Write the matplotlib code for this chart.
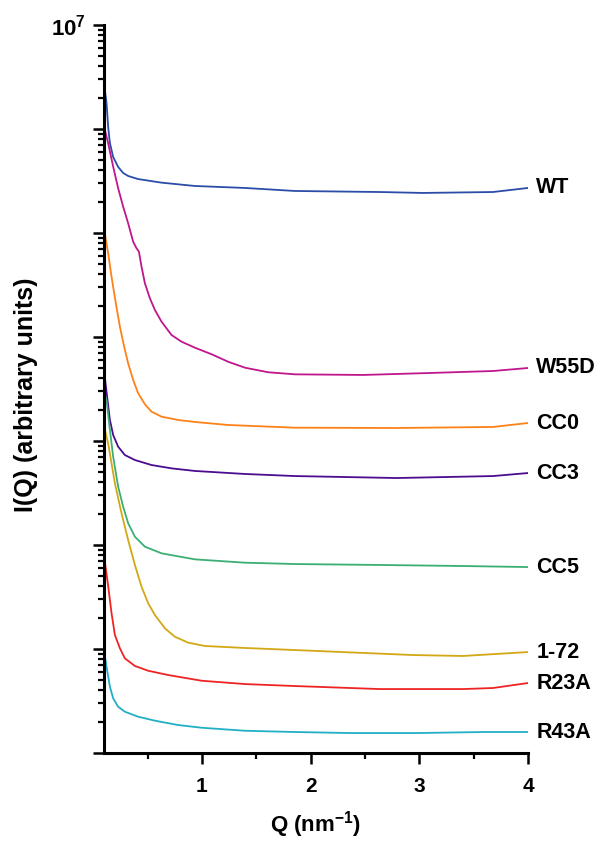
import matplotlib
matplotlib.use("Agg")
import matplotlib.pyplot as plt
from matplotlib.ticker import LogLocator, NullFormatter, FixedLocator, FuncFormatter

plt.rcParams['font.family'] = ['Liberation Sans', 'DejaVu Sans']
plt.rcParams['font.weight'] = 'bold'
plt.rcParams['mathtext.fontset'] = 'custom'
plt.rcParams['mathtext.rm'] = 'Liberation Sans:bold'
plt.rcParams['mathtext.bf'] = 'Liberation Sans:bold'
plt.rcParams['mathtext.default'] = 'bf'

# Data: Q (nm^-1) and log10 I(Q)
wt_q = [0.100, 0.123, 0.138, 0.154, 0.184, 0.230, 0.276, 0.322, 0.411, 0.629, 0.936, 1.396, 1.856, 2.638, 3.034, 3.678, 4.0]
wt_l = [6.440, 6.250, 6.019, 5.865, 5.731, 5.635, 5.577, 5.548, 5.519, 5.484, 5.452, 5.433, 5.404, 5.394, 5.385, 5.394, 5.433]

w55d_q = [0.101, 0.138, 0.184, 0.230, 0.276, 0.322, 0.368, 0.399, 0.421, 0.445, 0.476, 0.522, 0.568, 0.629, 0.721, 0.813, 0.936, 1.090, 1.242, 1.396, 1.610, 1.856, 2.482, 3.099, 3.678, 4.0]
w55d_l = [6.022, 5.863, 5.638, 5.430, 5.253, 5.093, 4.916, 4.853, 4.820, 4.676, 4.516, 4.372, 4.260, 4.147, 4.019, 3.955, 3.897, 3.834, 3.762, 3.705, 3.661, 3.641, 3.635, 3.654, 3.673, 3.702]

cc0_q = [0.100, 0.138, 0.169, 0.206, 0.246, 0.285, 0.322, 0.368, 0.414, 0.476, 0.537, 0.629, 0.782, 0.936, 1.242, 1.856, 2.794, 3.678, 4.0]
cc0_l = [5.040, 4.805, 4.580, 4.339, 4.099, 3.907, 3.747, 3.587, 3.459, 3.353, 3.282, 3.234, 3.202, 3.183, 3.154, 3.128, 3.125, 3.135, 3.173]

cc3_q = [0.100, 0.132, 0.154, 0.184, 0.230, 0.292, 0.384, 0.537, 0.721, 0.936, 1.396, 1.856, 2.794, 3.678, 4.0]
cc3_l = [3.680, 3.394, 3.202, 3.058, 2.945, 2.865, 2.817, 2.769, 2.737, 2.712, 2.683, 2.663, 2.644, 2.663, 2.692]

cc5_q = [0.100, 0.123, 0.154, 0.184, 0.230, 0.276, 0.322, 0.384, 0.476, 0.629, 0.936, 1.396, 1.856, 2.638, 3.402, 4.0]
cc5_l = [3.460, 3.394, 3.106, 2.849, 2.561, 2.368, 2.209, 2.080, 1.984, 1.920, 1.862, 1.830, 1.817, 1.808, 1.798, 1.788]

y172_q = [0.100, 0.138, 0.169, 0.200, 0.261, 0.322, 0.384, 0.445, 0.506, 0.568, 0.660, 0.752, 0.874, 1.028, 1.396, 1.856, 2.942, 3.402, 4.0]
y172_l = [3.145, 2.978, 2.785, 2.593, 2.305, 2.048, 1.808, 1.599, 1.440, 1.327, 1.199, 1.118, 1.061, 1.029, 1.010, 0.990, 0.942, 0.933, 0.971]

r23a_q = [0.100, 0.138, 0.169, 0.200, 0.246, 0.292, 0.384, 0.506, 0.690, 0.998, 1.396, 1.856, 2.638, 3.402, 3.678, 4.0]
r23a_l = [1.900, 1.606, 1.346, 1.135, 1.007, 0.910, 0.837, 0.791, 0.750, 0.695, 0.663, 0.644, 0.615, 0.615, 0.625, 0.673]

r43a_q = [0.100, 0.123, 0.154, 0.184, 0.230, 0.292, 0.414, 0.568, 0.782, 0.998, 1.396, 1.856, 2.362, 2.979, 3.586, 4.0]
r43a_l = [0.980, 0.830, 0.638, 0.526, 0.445, 0.397, 0.349, 0.311, 0.269, 0.243, 0.214, 0.202, 0.192, 0.192, 0.202, 0.202]

names = ["WT", "W55D", "CC0", "CC3", "CC5", "1-72", "R23A", "R43A"]
series = [(wt_q, wt_l), (w55d_q, w55d_l), (cc0_q, cc0_l), (cc3_q, cc3_l),
          (cc5_q, cc5_l), (y172_q, y172_l), (r23a_q, r23a_l), (r43a_q, r43a_l)]
colors = ["#2B4DA8", "#C0168C", "#FF8119", "#4B0C8F", "#3BAF72", "#D2A814", "#EE2424", "#22AFC6"]

fig = plt.figure(figsize=(6.02, 8.44), dpi=100)
ax = fig.add_axes([0.1728, 0.1078, 0.7043, 0.8626])

for (q, l), c, n in zip(series, colors, names):
    vals = [10 ** v for v in l]
    ax.plot(q, vals, color=c, lw=1.3, solid_joinstyle='round')
    ax.annotate(n, xy=(q[-1], vals[-1]), xytext=(6, 0), textcoords='offset points',
                va='center', ha='left', fontsize=15.5, fontweight='bold', color='black',
                annotation_clip=False)

ax.set_yscale('log')
ax.set_xlim(0.1, 4.0)
ax.set_ylim(1, 1e7)

ax.spines['top'].set_visible(False)
ax.spines['right'].set_visible(False)
ax.spines['left'].set_linewidth(2.2)
ax.spines['bottom'].set_linewidth(2.2)

ax.xaxis.set_major_locator(FixedLocator([1, 2, 3, 4]))
ax.xaxis.set_minor_locator(FixedLocator([0.5, 1.5, 2.5, 3.5]))
ax.yaxis.set_major_locator(LogLocator(base=10, numticks=20))
ax.yaxis.set_minor_locator(LogLocator(base=10, subs=[2, 3, 4, 5, 6, 7, 8, 9], numticks=20))
ax.yaxis.set_minor_formatter(NullFormatter())
ax.yaxis.set_major_formatter(FuncFormatter(lambda v, p: r'$\mathbf{10^{7}}$' if abs(v - 1e7) < 1 else ''))

ax.tick_params(axis='both', which='major', direction='out', length=8, width=1.8, labelsize=15)
ax.tick_params(axis='both', which='minor', direction='out', length=4.5, width=1.6)
ax.tick_params(axis='x', pad=9)
ax.tick_params(axis='y', labelsize=16, pad=5)
for t in ax.get_xticklabels():
    t.set_fontweight('bold')

ax.set_xlabel(r'Q (nm$^{\mathbf{-1}}$)', fontsize=16, fontweight='bold', labelpad=10)
ax.set_ylabel('I(Q) (arbitrary units)', fontsize=18, fontweight='bold')
ax.yaxis.set_label_coords(-0.156, 0.492)

fig.savefig("out.png", dpi=100)
